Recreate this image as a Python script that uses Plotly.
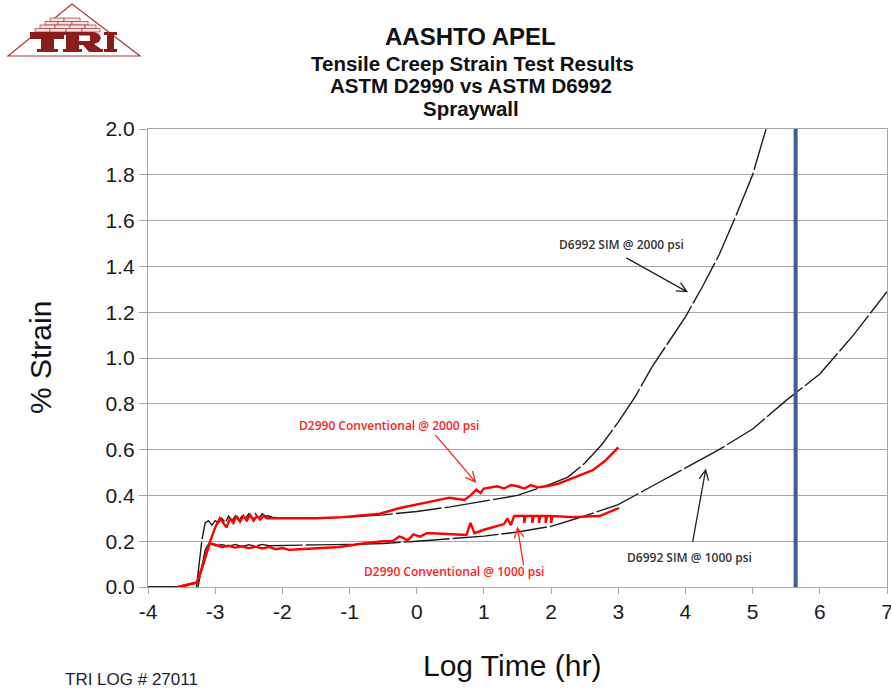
import plotly.graph_objects as go

# ---------------- data ----------------
x_ticks = [-4, -3, -2, -1, 0, 1, 2, 3, 4, 5, 6, 7]
y_ticks = [0.0, 0.2, 0.4, 0.6, 0.8, 1.0, 1.2, 1.4, 1.6, 1.8, 2.0]
y_tick_labels = ["0.0", "0.2", "0.4", "0.6", "0.8", "1.0", "1.2", "1.4", "1.6", "1.8", "2.0"]

sim2000_x = [-4, -3.5, -3.28, -3.25, -3.2, -3.15, -3.10, -3.05, -3.0, -2.95, -2.9, -2.85,
             -2.8, -2.75, -2.7, -2.65, -2.6, -2.55, -2.5, -2.45, -2.4, -2.35, -2.3, -2.25,
             -2.2, -2.15, -2.0, -1.5, -1.0, -0.5, 0.0, 0.5, 1.0, 1.5, 2.0, 2.25, 2.5, 2.75,
             3.0, 3.25, 3.5, 3.75, 4.0, 4.25, 4.5, 4.75, 5.0, 5.2]
sim2000_y = [0.0, 0.0, -0.006, 0.08, 0.2, 0.28, 0.29, 0.27, 0.29, 0.28, 0.30, 0.28,
             0.31, 0.29, 0.31, 0.29, 0.31, 0.30, 0.32, 0.30, 0.32, 0.30, 0.32, 0.31,
             0.31, 0.305, 0.30, 0.30, 0.305, 0.315, 0.33, 0.35, 0.375, 0.40, 0.45, 0.48, 0.54, 0.62,
             0.72, 0.83, 0.96, 1.07, 1.18, 1.31, 1.45, 1.62, 1.80, 2.0]

sim1000_x = [-4, -3.5, -3.26, -3.2, -3.15, -3.1, -3.05, -3.0, -2.9, -2.8, -2.7, -2.6, -2.5,
             -2.4, -2.3, -2.2, -2.0, -1.5, -1.0, -0.5, 0.0, 0.5, 1.0, 1.5, 2.0, 2.5, 3.0,
             3.5, 4.0, 4.5, 5.0, 5.5, 6.0, 6.5, 7.0]
sim1000_y = [0.0, 0.0, -0.006, 0.08, 0.16, 0.19, 0.19, 0.18, 0.185, 0.178, 0.186, 0.176, 0.185,
             0.178, 0.186, 0.18, 0.182, 0.184, 0.186, 0.19, 0.2, 0.21, 0.222, 0.24, 0.265, 0.31, 0.36,
             0.44, 0.52, 0.60, 0.69, 0.815, 0.93, 1.10, 1.29]

conv2000_x = [-3.55, -3.4, -3.27, -3.2, -3.1, -3.0, -2.93, -2.88, -2.83, -2.78, -2.73, -2.68,
              -2.63, -2.58, -2.53, -2.48, -2.43, -2.38, -2.33, -2.28, -2.23, -2.1, -2.0, -1.5,
              -1.1, -0.55, -0.25, 0.19, 0.49, 0.71, 0.8, 0.89, 0.95, 1.0, 1.1, 1.2, 1.3, 1.4,
              1.5, 1.6, 1.7, 1.8, 1.93, 2.1, 2.32, 2.62, 2.8, 3.0]
conv2000_y = [0.0, 0.01, 0.02, 0.08, 0.18, 0.26, 0.30, 0.28, 0.26, 0.30, 0.28, 0.31,
              0.285, 0.31, 0.29, 0.315, 0.29, 0.31, 0.295, 0.31, 0.30, 0.30, 0.30, 0.30,
              0.305, 0.32, 0.345, 0.37, 0.39, 0.38, 0.40, 0.425, 0.41, 0.43, 0.435, 0.44, 0.43, 0.445,
              0.44, 0.43, 0.445, 0.435, 0.44, 0.45, 0.475, 0.51, 0.55, 0.61]

conv1000_x = [-3.55, -3.4, -3.27, -3.2, -3.13, -3.08, -3.0, -2.9, -2.8, -2.7, -2.6, -2.5,
              -2.4, -2.3, -2.2, -2.1, -2.0, -1.9, -1.75, -1.5, -1.15, -0.8, -0.5, -0.36,
              -0.26, -0.2, -0.15, -0.11, -0.05, 0.05, 0.15, 0.23, 0.5, 0.74, 0.8, 0.86,
              1.0, 1.15, 1.23, 1.3, 1.35, 1.4, 1.45, 1.5, 1.6, 1.6, 1.62, 1.72, 1.72, 1.74,
              1.82, 1.82, 1.84, 1.92, 1.92, 1.94, 2.0, 2.0, 2.02, 2.32, 2.72, 3.01]
conv1000_y = [0.0, 0.01, 0.02, 0.08, 0.15, 0.19, 0.185, 0.175, 0.18, 0.172, 0.178, 0.17,
              0.176, 0.168, 0.175, 0.165, 0.17, 0.162, 0.165, 0.168, 0.175, 0.19, 0.2, 0.2,
              0.22, 0.215, 0.205, 0.21, 0.23, 0.22, 0.235, 0.235, 0.232, 0.227, 0.28, 0.235,
              0.25, 0.262, 0.27, 0.275, 0.30, 0.27, 0.31, 0.31, 0.31, 0.28, 0.31, 0.31, 0.28, 0.31,
              0.31, 0.28, 0.31, 0.31, 0.28, 0.31, 0.31, 0.28, 0.31, 0.305, 0.31, 0.345]

design_life_x = 5.64   # blue vertical reference line (log hr)

# ---------------- geometry helpers ----------------
W, H = 891, 689
ML, MR, MT, MB = 148, 4, 129, 102
PW, PH = W - ML - MR, H - MT - MB
XMIN, XMAX, YMIN, YMAX = -4, 7, 0, 2


def px(x):
    return (x - ML) / PW


def py(y):
    return (H - MB - y) / PH


def d2pix(x, y):
    return (ML + (x - XMIN) / (XMAX - XMIN) * PW,
            H - MB - (y - YMIN) / (YMAX - YMIN) * PH)


fig = go.Figure()

black = "#1a1a1a"
red = "#FF0000"
for xs, ys in [(sim2000_x, sim2000_y), (sim1000_x, sim1000_y)]:
    fig.add_trace(go.Scatter(x=xs, y=ys, mode="lines", hoverinfo="skip",
                             line=dict(color=black, width=1.4, dash="46px,3px"),
                             showlegend=False))
for xs, ys in [(conv2000_x, conv2000_y), (conv1000_x, conv1000_y)]:
    fig.add_trace(go.Scatter(x=xs, y=ys, mode="lines", hoverinfo="skip",
                             line=dict(color=red, width=2.4),
                             showlegend=False))

shapes = []
# blue vertical line
shapes.append(dict(type="line", xref="x", yref="y", x0=design_life_x, x1=design_life_x,
                   y0=0, y1=2, line=dict(color="#3B5E91", width=4)))


def arrow(tail, head, color):
    import math
    tx, ty = d2pix(*tail)
    hx, hy = d2pix(*head)
    ang = math.atan2(ty - hy, tx - hx)
    L = 11
    pts = []
    for s in (0.45, -0.45):
        pts.append((hx + L * math.cos(ang + s), hy + L * math.sin(ang + s)))
    path = (f"M {px(tx)},{py(ty)} L {px(hx)},{py(hy)} "
            f"M {px(pts[0][0])},{py(pts[0][1])} L {px(hx)},{py(hy)} L {px(pts[1][0])},{py(pts[1][1])}")
    shapes.append(dict(type="path", xref="paper", yref="paper", path=path,
                       line=dict(color=color, width=1.3)))


arrow((3.12, 1.437), (4.02, 1.29), "#222222")
arrow((4.107, 0.197), (4.30, 0.511), "#222222")
arrow((0.277, 0.664), (0.873, 0.459), "#FF2020")
arrow((1.59, 0.096), (1.50, 0.258), "#FF2020")

# ---- logo (TRI) ----
maroon = "#8B1C1C"


def poly(points, fill, line_color=None, lw=0):
    path = "M " + " L ".join(f"{px(a)},{py(b)}" for a, b in points) + " Z"
    shapes.append(dict(type="path", xref="paper", yref="paper", path=path,
                       fillcolor=fill, line=dict(color=line_color or fill, width=lw)))


# triangle outline
tri = f"M {px(8)},{py(56)} L {px(72)},{py(4)} L {px(140)},{py(56)} Z"
shapes.append(dict(type="path", xref="paper", yref="paper", path=tri,
                   line=dict(color="#A33A3A", width=1.2)))
# bricks
rows = [(18, 21.5, [50, 64, 80]),
        (21.5, 25, [45, 58, 72, 88]),
        (25, 28.5, [40, 55, 70, 85, 96]),
        (28.5, 32, [35, 50, 66, 82, 100])]
for y0, y1, xs in rows:
    for a, b in zip(xs[:-1], xs[1:]):
        poly([(a, y0), (b, y0), (b, y1), (a, y1)], "#F6E2E2", "#B04848", 0.8)
# letters
poly([(30, 32), (64, 32), (64, 39), (54, 39), (54, 49), (58, 49), (58, 52), (37, 52),
      (37, 49), (41, 49), (41, 39), (30, 39)], maroon)
poly([(63, 32), (94, 32), (99, 34), (101, 38), (99, 42), (94, 44), (101, 49), (103, 49),
      (103, 52), (89, 52), (83, 45), (79, 45), (79, 49), (82, 49), (82, 52), (63, 52),
      (63, 49), (66, 49), (66, 35), (63, 35)], maroon)
poly([(79, 35.5), (90, 35.5), (90, 41), (79, 41)], "white")
poly([(104, 32), (117, 32), (117, 35), (114, 35), (114, 49), (117, 49), (117, 52), (104, 52),
      (104, 49), (107, 49), (107, 35), (104, 35)], maroon)

ann = []


def text(s, x, y, size, color="#111111", family="Liberation Sans", weight="normal", angle=0,
         xanchor="center"):
    ann.append(dict(text=s, x=px(x), y=py(y), xref="paper", yref="paper", showarrow=False,
                    xanchor=xanchor, yanchor="middle", textangle=angle,
                    font=dict(size=size, color=color, family=family, weight=weight)))


text("AASHTO APEL", 470, 37, 24, weight="bold")
text("Tensile Creep Strain Test Results", 472, 63, 20.5, weight="bold")
text("ASTM D2990 vs ASTM D6992", 471, 86, 20.5, weight="bold")
text("Spraywall", 471, 109, 20.5, weight="bold")
text("% Strain", 40, 358, 30, angle=-90)
text("Log Time (hr)", 512, 665, 30)
text("TRI LOG # 27011", 63, 679, 17, color="#222233", xanchor="left")

text("D6992 SIM @ 2000 psi", 557, 244, 12, color="#333333", family="Open Sans",
     weight=600, xanchor="left")
text("D6992 SIM @ 1000 psi", 625, 557, 12, color="#333333", family="Open Sans",
     weight=600, xanchor="left")
text("D2990 Conventional @ 2000 psi", 297, 425, 12, color="#FF2020", family="Open Sans",
     weight=600, xanchor="left")
text("D2990 Conventional @ 1000 psi", 362, 571, 12, color="#FF2020", family="Open Sans",
     weight=600, xanchor="left")

grid = "#A6A6A6"
fig.update_layout(
    width=W, height=H,
    margin=dict(l=ML, r=MR, t=MT, b=MB, pad=0, autoexpand=False),
    paper_bgcolor="white", plot_bgcolor="white",
    shapes=shapes, annotations=ann,
    xaxis=dict(range=[XMIN, XMAX], tickvals=x_ticks, ticktext=[str(v) for v in x_ticks],
               showgrid=False, zeroline=False, showline=True, linecolor=grid, linewidth=1.3,
               mirror=True, ticks="outside", ticklen=6, tickcolor=grid, tickwidth=1.3,
               ticklabeloverflow="allow", automargin=False,
               tickfont=dict(size=21, family="Liberation Sans", color="#1a1a1a")),
    yaxis=dict(range=[YMIN, YMAX], tickvals=y_ticks, ticktext=y_tick_labels,
               showgrid=True, gridcolor=grid, gridwidth=1.3, zeroline=False,
               showline=True, linecolor=grid, linewidth=1.3, mirror=True,
               ticks="outside", ticklen=8, tickcolor=grid, tickwidth=1.3, automargin=False,
               tickfont=dict(size=21, family="Liberation Sans", color="#1a1a1a")),
)

fig.write_html("out.html", config={"displayModeBar": False},
               post_script="document.body.style.margin='0px';document.body.style.overflow='hidden';")
